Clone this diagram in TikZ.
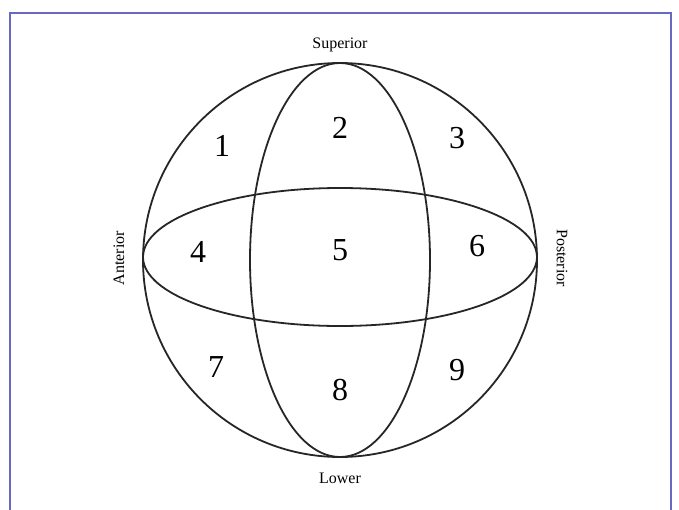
\documentclass[tikz,border=0pt]{standalone}
\usepackage{fontspec}
\setmainfont{Liberation Serif}
\definecolor{frame}{RGB}{105,105,195}
\begin{document}
\begin{tikzpicture}[x=1pt,y=-1pt,
  outline/.style={line width=1.8pt,black!85},
  num/.style={font=\fontsize{32}{32}\selectfont, inner sep=0pt},
  lab/.style={font=\fontsize{16}{16}\selectfont, inner sep=0pt}]
\useasboundingbox (0,0) rectangle (679,509);
\fill[white] (0,0) rectangle (679,509);
\draw[frame, line width=1.8pt] (10,515) -- (10,13) -- (671,13) -- (671,515);
\coordinate (c) at (340,260);
\draw[outline] (c) circle[radius=197];
\draw[outline] (c) ellipse[x radius=90, y radius=197];
\draw[outline] (340,257) ellipse[x radius=197, y radius=69];
\node[lab] (sup) at (340,45) {Superior};
\node[lab] (low) at (340,478) {Lower};
\node[lab, rotate=90] (ant) at (119,258) {Anterior};
\node[lab, rotate=-90] (pos) at (562,258) {Posterior};
\node[num] (n1) at (222,146) {1};
\node[num] (n2) at (340,128) {2};
\node[num] (n3) at (457,138) {3};
\node[num] (n4) at (198,252) {4};
\node[num] (n5) at (340,250) {5};
\node[num] (n6) at (477,246) {6};
\node[num] (n7) at (216,367) {7};
\node[num] (n8) at (340,390) {8};
\node[num] (n9) at (457,370) {9};
\end{tikzpicture}
\end{document}
